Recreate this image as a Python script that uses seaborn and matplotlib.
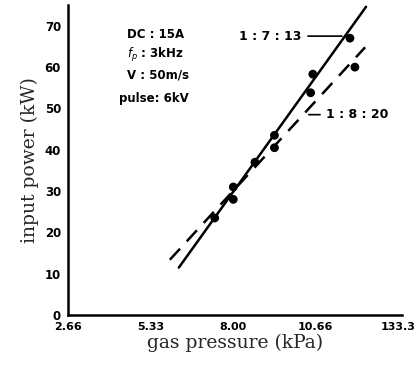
import matplotlib
matplotlib.use("Agg")
import matplotlib.pyplot as plt
import seaborn as sns
import pandas as pd

# measured points, ratio 1:7:13 (solid) and 1:8:20 (dashed)
p_713 = [8.00, 8.70, 9.33, 10.57, 11.77]
w_713 = [31.0, 37.0, 43.5, 58.3, 67.0]
p_820 = [7.40, 8.00, 9.33, 10.50, 11.93]
w_820 = [23.5, 28.0, 40.5, 53.8, 60.0]

# fitted lines (end points)
fit_713_p = [6.24, 12.29]
fit_713_w = [11.5, 74.6]
fit_820_p = [5.95, 12.26]
fit_820_w = [13.4, 64.8]

xticks = [2.66, 5.33, 8.00, 10.66, 13.33]
xtick_labels = ["2.66", "5.33", "8.00", "10.66", "133.3"]
yticks = [0, 10, 20, 30, 40, 50, 60, 70]

sns.set_style("white")
plt.rcParams["font.family"] = ["DejaVu Sans"]
plt.rcParams["text.color"] = "black"
plt.rcParams["xtick.color"] = "black"
plt.rcParams["ytick.color"] = "black"

fig = plt.figure(figsize=(4.2, 3.66), dpi=100)
ax = fig.add_axes([0.162, 0.139, 0.795, 0.847])

pts = pd.DataFrame({"p": p_713 + p_820, "w": w_713 + w_820,
                    "mix": ["1:7:13"] * len(p_713) + ["1:8:20"] * len(p_820)})
fits = pd.DataFrame({"p": fit_713_p + fit_820_p, "w": fit_713_w + fit_820_w,
                     "mix": ["1:7:13"] * 2 + ["1:8:20"] * 2})

sns.lineplot(data=fits, x="p", y="w", style="mix", dashes={"1:7:13": "", "1:8:20": (6, 4)},
             color="black", linewidth=1.8, legend=False, ax=ax)
sns.scatterplot(data=pts, x="p", y="w", color="black", s=40, edgecolor="none", legend=False, ax=ax)

ax.set_xlim(2.66, 13.45)
ax.set_ylim(0, 75)
ax.set_xticks(xticks)
ax.set_xticklabels(xtick_labels, fontsize=8, fontweight="bold")
ax.set_xticks([(a + b) / 2 for a, b in zip(xticks[:-1], xticks[1:])], minor=True)
ax.set_yticks(yticks)
ax.set_yticklabels([str(v) for v in yticks], fontsize=8.5, fontweight="bold")
ax.tick_params(axis="x", which="both", direction="in", length=4, width=1.5, pad=5)
ax.tick_params(axis="y", direction="out", length=4, width=1.5, pad=1)

for s in ["top", "right"]:
    ax.spines[s].set_visible(False)
for s in ["left", "bottom"]:
    ax.spines[s].set_linewidth(1.8)
    ax.spines[s].set_color("black")

ax.set_xlabel("gas pressure (kPa)", fontsize=13.5, family="DejaVu Serif", labelpad=1)
ax.set_ylabel("input power (kW)", fontsize=13.5, family="DejaVu Serif", labelpad=4)

ax.text(4.55, 69.5, "DC : 15A\n$f_p$ : 3kHz\nV : 50m/s", fontsize=8.5, fontweight="bold",
        va="top", ha="left", linespacing=1.45)
ax.text(4.3, 52.5, "pulse: 6kV", fontsize=8.5, fontweight="bold", va="center", ha="left")

ax.annotate("1 : 7 : 13", xy=(11.6, 67.5), xytext=(8.2, 67.5), fontsize=9, fontweight="bold",
            va="center", arrowprops=dict(arrowstyle="-", color="black", lw=1.2))
ax.annotate("1 : 8 : 20", xy=(10.35, 48.5), xytext=(11.0, 48.5), fontsize=9, fontweight="bold",
            va="center", arrowprops=dict(arrowstyle="-", color="black", lw=1.2))

fig.savefig("out.png", dpi=100)
